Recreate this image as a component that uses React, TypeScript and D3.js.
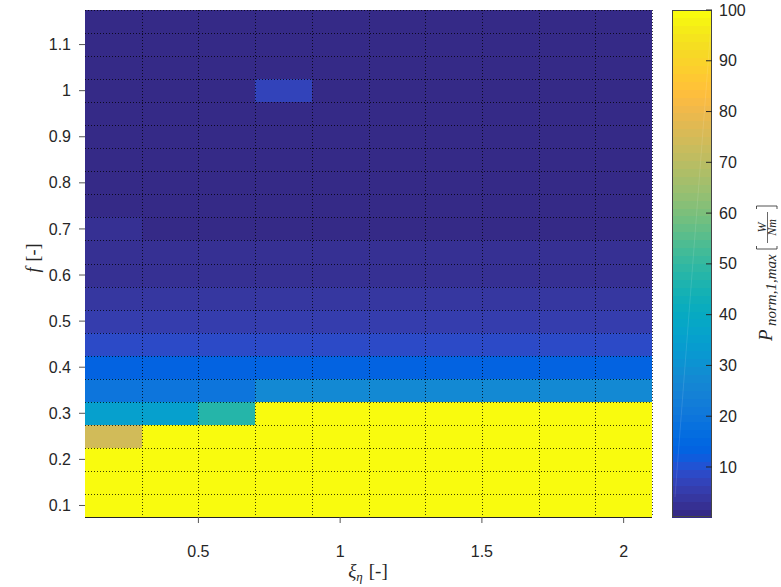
import React from 'react';
import * as d3 from 'd3';

// ---- data ----
const xiValues = [0.2, 0.4, 0.6, 0.8, 1.0, 1.2, 1.4, 1.6, 1.8, 2.0];
const fValues = [0.10, 0.15, 0.20, 0.25, 0.30, 0.35, 0.40, 0.45, 0.50, 0.55, 0.60,
  0.65, 0.70, 0.75, 0.80, 0.85, 0.90, 0.95, 1.00, 1.05, 1.10, 1.15];
// one row per f value, one entry per xi value
const powerGrid = [
  [100, 100, 100, 100, 100, 100, 100, 100, 100, 100],
  [100, 100, 100, 100, 100, 100, 100, 100, 100, 100],
  [100, 100, 100, 100, 100, 100, 100, 100, 100, 100],
  [74.8, 100, 100, 100, 100, 100, 100, 100, 100, 100],
  [35.6, 35.2, 48.0, 100, 100, 100, 100, 100, 100, 100],
  [20.0, 20.0, 20.1, 27.4, 27.4, 27.5, 27.5, 27.5, 27.6, 27.6],
  [13.5, 13.5, 13.5, 13.5, 13.5, 13.5, 13.5, 13.5, 13.5, 13.5],
  [8.7, 8.7, 8.7, 8.7, 8.7, 8.7, 8.7, 8.7, 8.7, 8.7],
  [5.6, 5.6, 5.6, 5.6, 5.6, 5.6, 5.6, 5.6, 5.6, 5.6],
  [4.0, 4.0, 4.0, 4.0, 4.0, 4.0, 4.0, 4.0, 4.0, 4.0],
  [2.6, 2.6, 2.6, 2.6, 2.6, 2.6, 2.6, 2.6, 2.6, 2.6],
  [2.0, 2.0, 2.0, 2.0, 2.0, 2.0, 2.0, 2.0, 2.0, 2.0],
  [2.8, 1.2, 1.2, 1.2, 1.2, 1.2, 1.2, 1.2, 1.2, 1.2],
  [1.1, 1.1, 1.1, 1.1, 1.1, 1.1, 1.1, 1.1, 1.1, 1.1],
  [1.0, 1.0, 1.0, 1.0, 1.0, 1.0, 1.0, 1.0, 1.0, 1.0],
  [0.9, 0.9, 0.9, 0.9, 0.9, 0.9, 0.9, 0.9, 0.9, 0.9],
  [0.8, 0.8, 0.8, 0.8, 0.8, 0.8, 0.8, 0.8, 0.8, 0.8],
  [0.7, 0.7, 0.7, 0.7, 0.7, 0.7, 0.7, 0.7, 0.7, 0.7],
  [0.6, 0.6, 0.6, 7.6, 0.6, 0.6, 0.6, 0.6, 0.6, 0.6],
  [0.5, 0.5, 0.5, 0.5, 0.5, 0.5, 0.5, 0.5, 0.5, 0.5],
  [0.4, 0.4, 0.4, 0.4, 0.4, 0.4, 0.4, 0.4, 0.4, 0.4],
  [0.3, 0.3, 0.3, 0.3, 0.3, 0.3, 0.3, 0.3, 0.3, 0.3],
];
const xTicks = [0.5, 1, 1.5, 2];
const yTicks = [0.1, 0.2, 0.3, 0.4, 0.5, 0.6, 0.7, 0.8, 0.9, 1, 1.1];
const cbTicks = [10, 20, 30, 40, 50, 60, 70, 80, 90, 100];
const colorMin = 0.15;
const colorMax = 100;

const parula: number[][] = [
  [0.2081, 0.1663, 0.5292], [0.2116, 0.1898, 0.5777], [0.2123, 0.2138, 0.6270], [0.2081, 0.2386, 0.6771],
  [0.1959, 0.2645, 0.7279], [0.1707, 0.2919, 0.7792], [0.1253, 0.3242, 0.8303], [0.0591, 0.3598, 0.8683],
  [0.0117, 0.3875, 0.8820], [0.0060, 0.4086, 0.8828], [0.0165, 0.4266, 0.8786], [0.0329, 0.4430, 0.8720],
  [0.0498, 0.4586, 0.8641], [0.0629, 0.4737, 0.8554], [0.0723, 0.4887, 0.8467], [0.0779, 0.5040, 0.8384],
  [0.0793, 0.5200, 0.8312], [0.0749, 0.5375, 0.8263], [0.0641, 0.5570, 0.8240], [0.0488, 0.5772, 0.8228],
  [0.0343, 0.5966, 0.8199], [0.0265, 0.6137, 0.8135], [0.0239, 0.6287, 0.8038], [0.0231, 0.6418, 0.7913],
  [0.0228, 0.6535, 0.7768], [0.0267, 0.6642, 0.7607], [0.0384, 0.6743, 0.7436], [0.0590, 0.6838, 0.7254],
  [0.0843, 0.6928, 0.7062], [0.1133, 0.7015, 0.6859], [0.1453, 0.7098, 0.6646], [0.1801, 0.7177, 0.6424],
  [0.2178, 0.7250, 0.6193], [0.2586, 0.7317, 0.5954], [0.3022, 0.7376, 0.5712], [0.3482, 0.7424, 0.5473],
  [0.3953, 0.7459, 0.5244], [0.4420, 0.7481, 0.5033], [0.4871, 0.7491, 0.4840], [0.5300, 0.7491, 0.4661],
  [0.5709, 0.7485, 0.4494], [0.6099, 0.7473, 0.4337], [0.6473, 0.7456, 0.4188], [0.6834, 0.7435, 0.4044],
  [0.7184, 0.7411, 0.3905], [0.7525, 0.7384, 0.3768], [0.7858, 0.7356, 0.3633], [0.8185, 0.7327, 0.3498],
  [0.8507, 0.7299, 0.3360], [0.8824, 0.7274, 0.3217], [0.9139, 0.7258, 0.3063], [0.9450, 0.7261, 0.2886],
  [0.9739, 0.7314, 0.2666], [0.9938, 0.7455, 0.2403], [0.9990, 0.7653, 0.2164], [0.9955, 0.7861, 0.1967],
  [0.9880, 0.8066, 0.1794], [0.9789, 0.8271, 0.1633], [0.9697, 0.8481, 0.1475], [0.9626, 0.8705, 0.1309],
  [0.9589, 0.8949, 0.1132], [0.9598, 0.9218, 0.0948], [0.9661, 0.9514, 0.0755], [0.9763, 0.9831, 0.0538],
];
const parulaHex = parula.map(c => d3.rgb(c[0] * 255, c[1] * 255, c[2] * 255).formatHex());

// ---- layout ----
const W = 781, H = 587;
const plot = { left: 85, right: 652, top: 10, bottom: 517 };
const cb = { left: 672, right: 712, top: 10, bottom: 517 };
const tickFont = '"Liberation Sans", Arial, Helvetica, sans-serif';
const mathFont = '"Liberation Serif", "DejaVu Serif", serif';
const textColor = '#262626';
const tickSize = 16;

export default function App() {
  const dxi = 0.2, df = 0.05;
  const x = d3.scaleLinear().domain([0.1, 2.1]).range([plot.left, plot.right]);
  const y = d3.scaleLinear().domain([0.075, 1.175]).range([plot.bottom, plot.top]);
  const color = d3.scaleQuantize<string>().domain([colorMin, colorMax]).range(parulaHex);
  const cy = d3.scaleLinear().domain([colorMin, colorMax]).range([cb.bottom, cb.top]);

  const cells: { key: string; x0: number; x1: number; y0: number; y1: number; c: string }[] = [];
  fValues.forEach((f, i) => {
    xiValues.forEach((xi, j) => {
      cells.push({
        key: `${i}-${j}`,
        x0: x(xi - dxi / 2), x1: x(xi + dxi / 2),
        y0: y(f + df / 2), y1: y(f - df / 2),
        c: color(powerGrid[i][j]),
      });
    });
  });

  const xEdges = d3.range(xiValues.length).map(j => xiValues[j] + dxi / 2);
  const yEdges = d3.range(fValues.length).map(i => fValues[i] + df / 2);

  const step = (colorMax - colorMin) / parulaHex.length;
  const bands = parulaHex.map((c, k) => ({ c, v0: colorMin + k * step, v1: colorMin + (k + 1) * step }));

  return (
    <div style={{ position: 'absolute', left: 0, top: 0 }}>
      <svg width={W} height={H} viewBox={`0 0 ${W} ${H}`} style={{ display: 'block', background: '#fff' }}>
        <rect x={0} y={0} width={W} height={H} fill="#fff" />
        {/* heatmap cells */}
        <g shapeRendering="crispEdges">
          {cells.map(c => (
            <rect key={c.key} x={c.x0} y={c.y0} width={c.x1 - c.x0} height={c.y1 - c.y0} fill={c.c} />
          ))}
        </g>
        {/* dotted cell edges */}
        <g stroke="#000" strokeOpacity={0.75} strokeWidth={1} strokeDasharray="1 2" fill="none">
          {xEdges.map((e, k) => (
            <line key={'vx' + k} x1={Math.round(x(e)) + 0.5} x2={Math.round(x(e)) + 0.5} y1={plot.top} y2={plot.bottom} />
          ))}
          {yEdges.map((e, k) => (
            <line key={'hy' + k} x1={plot.left} x2={plot.right} y1={Math.round(y(e)) + 0.5} y2={Math.round(y(e)) + 0.5} />
          ))}
        </g>
        {/* axis line */}
        <line x1={plot.left} x2={plot.right} y1={plot.bottom + 0.5} y2={plot.bottom + 0.5} stroke={textColor} strokeWidth={1} />
        {/* x ticks */}
        <g>
          {xTicks.map(t => (
            <g key={'xt' + t}>
              <line x1={x(t)} x2={x(t)} y1={plot.bottom} y2={plot.bottom + 6} stroke="#555" strokeWidth={1} />
              <text x={x(t)} y={557} textAnchor="middle" fontFamily={tickFont} fontSize={tickSize} fill={textColor}>{t}</text>
            </g>
          ))}
        </g>
        {/* y ticks */}
        <g>
          {yTicks.map(t => (
            <g key={'yt' + t}>
              <line x1={plot.left - 6} x2={plot.left} y1={y(t)} y2={y(t)} stroke="#555" strokeWidth={1} />
              <text x={71} y={y(t) + 5.6} textAnchor="end" fontFamily={tickFont} fontSize={tickSize} fill={textColor}>{t}</text>
            </g>
          ))}
        </g>
        {/* x label */}
        <text x={368} y={577} textAnchor="middle" fontFamily={mathFont} fill={textColor} fontSize={19}>
          <tspan fontStyle="italic">ξ</tspan>
          <tspan fontStyle="italic" fontSize={13} dy={4}>η</tspan>
          <tspan dy={-4} dx={6}>[-]</tspan>
        </text>
        {/* y label */}
        <g transform="translate(39, 258) rotate(-90)">
          <text x={0} y={0} textAnchor="middle" fontFamily={mathFont} fill={textColor} fontSize={18}>
            <tspan fontStyle="italic">f</tspan>
            <tspan dx={6}>[-]</tspan>
          </text>
        </g>

        {/* colorbar */}
        <g shapeRendering="crispEdges">
          {bands.map((b, k) => (
            <rect key={'cb' + k} x={cb.left} width={cb.right - cb.left} y={cy(b.v1)} height={cy(b.v0) - cy(b.v1) + 0.5} fill={b.c} />
          ))}
        </g>
        <line x1={675} y1={497} x2={711} y2={25} stroke="#fff" strokeOpacity={0.15} strokeWidth={0.8} />
        <rect x={cb.left + 0.5} y={cb.top + 0.5} width={cb.right - cb.left - 1} height={cb.bottom - cb.top - 1} fill="none" stroke="#444" strokeWidth={1} />
        {cbTicks.map(t => (
          <g key={'cbt' + t}>
            <line x1={cb.right - 6} x2={cb.right} y1={cy(t)} y2={cy(t)} stroke={textColor} strokeWidth={1} />
            <text x={719} y={cy(t) + 5.6} fontFamily={tickFont} fontSize={tickSize} fill={textColor}>{t}</text>
          </g>
        ))}
        {/* colorbar label */}
        <g transform="translate(772, 341) rotate(-90)" fill={textColor} fontFamily={mathFont}>
          <text x={0} y={0} fontSize={19} fontStyle="italic">P</text>
          <text x={15} y={3.5} fontSize={15} fontStyle="italic">norm,1,max</text>
          <path d="M 95,-15.5 H 92 V 5 H 95" fill="none" stroke={textColor} strokeWidth={0.8} />
          <path d="M 132,-15.5 H 135 V 5 H 132" fill="none" stroke={textColor} strokeWidth={0.8} />
          <text x={113.5} y={-6.5} fontSize={12} fontStyle="italic" textAnchor="middle">W</text>
          <line x1={98} x2={129} y1={-4.5} y2={-4.5} stroke={textColor} strokeWidth={0.7} />
          <text x={113.5} y={4} fontSize={12} fontStyle="italic" textAnchor="middle">Nm</text>
        </g>
      </svg>
    </div>
  );
}
